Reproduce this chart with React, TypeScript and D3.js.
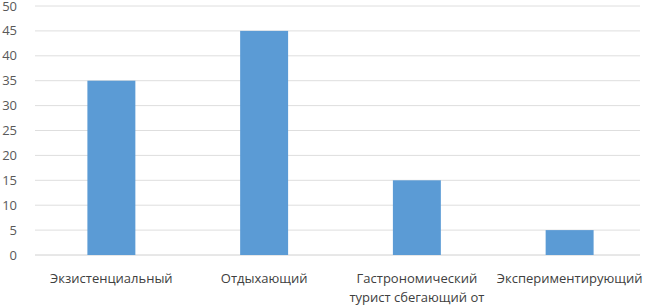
import { scaleBand, scaleLinear } from "d3";

const categories = ["Экзистенциальный", "Отдыхающий", "Гастрономический турист сбегающий от", "Экспериментирующий"];
const labelLines = [["Экзистенциальный"], ["Отдыхающий"], ["Гастрономический", "турист сбегающий от"], ["Экспериментирующий"]];
const values = [35, 45, 15, 5];
const yTicks = [0, 5, 10, 15, 20, 25, 30, 35, 40, 45, 50];

const W = 646;
const H = 305;
const MARGIN = { top: 6, right: 0, bottom: 50, left: 35 };

export default function App() {
  const x = scaleBand<string>()
    .domain(categories)
    .range([MARGIN.left, W - MARGIN.right])
    .paddingInner(0.686)
    .paddingOuter(0.343);
  const y = scaleLinear().domain([0, 50]).range([H - MARGIN.bottom, MARGIN.top]);
  const font = "'Open Sans', 'Noto Sans', sans-serif";

  return (
    <svg width={W} height={H} style={{ position: "absolute", left: 0, top: 0 }}>
      <rect width={W} height={H} fill="#fff" />
      {yTicks.map((t) => (
        <g key={t}>
          <line x1={MARGIN.left} x2={640} y1={y(t)} y2={y(t)} stroke={t === 0 ? "#d0d0d0" : "#dedede"} />
          <text x={17} y={y(t)} dy="0.35em" textAnchor="end" fontSize={13} fill="#595959" fontFamily={font}>
            {t}
          </text>
        </g>
      ))}
      {categories.map((c, i) => (
        <rect key={c} x={x(c)} width={x.bandwidth()} y={y(values[i])} height={y(0) - y(values[i])} fill="#5b9bd5" />
      ))}
      {categories.map((c, i) => (
        <text key={c} textAnchor="middle" fontSize={13} fill="#404040" fontFamily={font}>
          {labelLines[i].map((l, j) => (
            <tspan key={j} x={(x(c) ?? 0) + x.bandwidth() / 2} y={283 + j * 19}>
              {l}
            </tspan>
          ))}
        </text>
      ))}
    </svg>
  );
}
